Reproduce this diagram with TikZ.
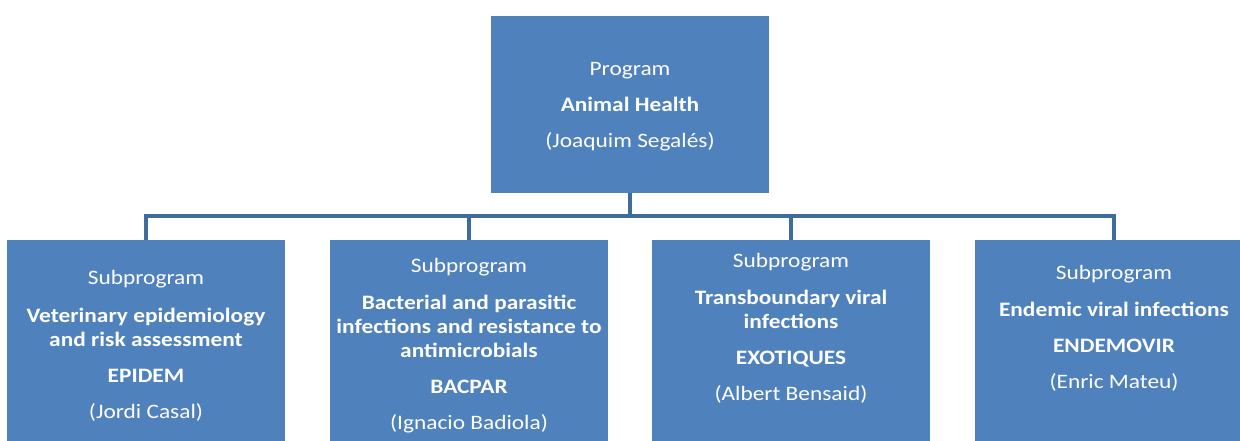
\documentclass[tikz,border=0pt]{standalone}
\usepackage{fontspec}
\setmainfont{Carlito}[FakeStretch=1.14]
\usepackage{tikz}
\definecolor{boxblue}{HTML}{4F81BD}
\definecolor{linkblue}{HTML}{3E6C9F}

\begin{document}
\begin{tikzpicture}[
x=1pt, y=-1pt,
    P/.style = {rectangle, fill=boxblue,% style of the program boxes
                minimum width=278pt, inner sep=0pt, outer sep=0pt},
    T/.style = {text=white, align=center,% style of the texts in the boxes
                font=\fontsize{20.5}{24}\selectfont},
 link/.style = {draw=linkblue, line width=4pt},
                        ]
\useasboundingbox (0,0) rectangle (1240,441);
% program
\node[P, T, minimum height=177pt] (prog) at (630,104.5) {};
\node[T] (t0) at (630,106.5)
    {Program\\[12pt]\textbf{Animal Health}\\[12pt](Joaquim Segal\'es)};
% subprograms
\node[P, minimum height=220pt] (sub1) at (146,350) {};
\node[P, minimum height=220pt] (sub2) at (469,350) {};
\node[P, minimum height=220pt] (sub3) at (791,350) {};
\node[P, minimum height=220pt] (sub4) at (1114,350) {};
\node[T] (t1) at (146,346) {Subprogram\\[14pt]\textbf{Veterinary epidemiology}\\
    \textbf{and risk assessment}\\[12pt]\textbf{EPIDEM}\\[12pt](Jordi Casal)};
\node[T] (t2) at (469,346) {Subprogram\\[13pt]\textbf{Bacterial and parasitic}\\
    \textbf{infections and resistance to}\\\textbf{antimicrobials}\\[12pt]
    \textbf{BACPAR}\\[12pt](Ignacio Badiola)};
\node[T] (t3) at (791,328) {Subprogram\\[13pt]\textbf{Transboundary viral}\\
    \textbf{infections}\\[12pt]\textbf{EXOTIQUES}\\[12pt](Albert Bensaid)};
\node[T] (t4) at (1114,328) {Subprogram\\[13pt]\textbf{Endemic viral infections}\\[12pt]
    \textbf{ENDEMOVIR}\\[12pt](Enric Mateu)};
% connectors
\foreach \n in {1,...,4}
    \draw[link] (prog.south) -- ++(0,23) -| (sub\n.north);
\end{tikzpicture}
\end{document}
